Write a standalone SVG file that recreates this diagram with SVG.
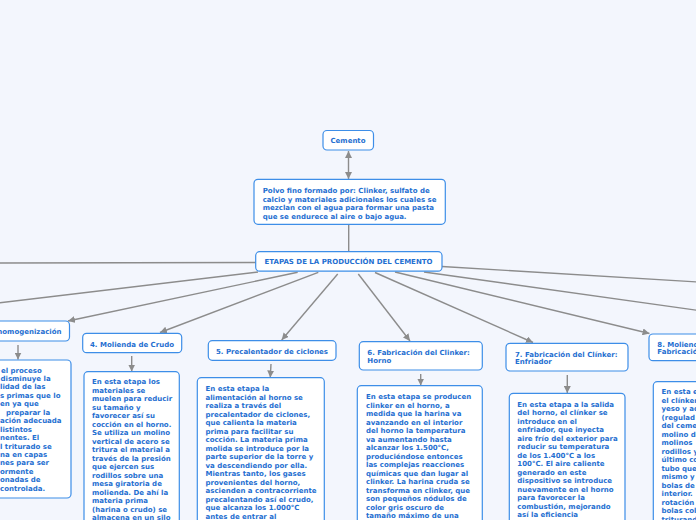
<svg xmlns="http://www.w3.org/2000/svg" width="696" height="520" viewBox="0 0 696 520">
<defs>
<style>
.bg{fill:#f3f6fd}
.box{fill:#ffffff;stroke:#3d8ee8;stroke-width:1.2}
.t{font-family:"DejaVu Sans","Verdana",sans-serif;font-weight:bold;font-size:7px;fill:#1f6fd1}
.c{fill:none;stroke:#8c8c8c;stroke-width:1.4}
</style>
<marker id="ah" viewBox="0 0 10 10" refX="10" refY="5" markerWidth="7" markerHeight="7" markerUnits="userSpaceOnUse" orient="auto-start-reverse"><path d="M0,0 L10,5 L0,10 z" fill="#8c8c8c"/></marker>
</defs>
<rect class="bg" x="0" y="0" width="696" height="520"/>

<g id="connectors">
<path class="c" d="M348.5,151 L348.5,179" stroke-width="2" marker-start="url(#ah)" marker-end="url(#ah)"/>
<path class="c" d="M348.7,224.5 L348.7,251.5"/>
<path class="c" d="M256,262.5 L-10,263"/>
<path class="c" d="M258,272 L-10,304"/>
<path class="c" d="M297.7,272.3 L68,321" marker-end="url(#ah)"/>
<path class="c" d="M318.3,272.3 L160,332.5" marker-end="url(#ah)"/>
<path class="c" d="M337.7,274 L281.7,340" marker-end="url(#ah)"/>
<path class="c" d="M358.3,274 L410,341" marker-end="url(#ah)"/>
<path class="c" d="M375,272.5 L533,342.5" marker-end="url(#ah)"/>
<path class="c" d="M395,272 L649.5,333.5" marker-end="url(#ah)"/>
<path class="c" d="M424,272 L706,311.5"/>
<path class="c" d="M442,266.5 L706,282.5"/>
<path class="c" d="M18,345 L18,359.5" marker-end="url(#ah)"/>
<path class="c" d="M131.7,356 L131.7,371.5" marker-end="url(#ah)"/>
<path class="c" d="M271,364 L270.3,377.5" marker-end="url(#ah)"/>
<path class="c" d="M420.7,374 L420.7,385.5" marker-end="url(#ah)"/>
<path class="c" d="M567.3,375 L567.3,393" marker-end="url(#ah)"/>
</g>

<g id="cemento">
<rect class="box" x="323" y="130.5" width="50.5" height="19.5" rx="4"/>
<text class="t" x="348" y="143.3" text-anchor="middle">Cemento</text>
</g>

<g id="definicion">
<rect class="box" x="254" y="179.3" width="191.3" height="45" rx="4"/>
<text class="t" x="262.7" y="193"><tspan x="262.7">Polvo fino formado por: Clinker, sulfato de</tspan><tspan x="262.7" dy="8.6">calcio y materiales adicionales los cuales se</tspan><tspan x="262.7" dy="8.6">mezclan con el agua para formar una pasta</tspan><tspan x="262.7" dy="8.6">que se endurece al aire o bajo agua.</tspan></text>
</g>

<g id="etapas">
<rect class="box" x="255.7" y="251.7" width="186.3" height="19.5" rx="4"/>
<text class="t" x="348.5" y="264" text-anchor="middle">ETAPAS DE LA PRODUCCIÓN DEL CEMENTO</text>
</g>

<g id="etapa3">
<rect class="box" x="-60" y="321" width="129.5" height="20" rx="4"/>
<text class="t" x="61.5" y="334" text-anchor="end">homogenización</text>
</g>

<g id="etapa3-desc">
<rect class="box" x="-60" y="360" width="131" height="138" rx="4"/>
<text class="t" y="372.5"><tspan x="1">el proceso</tspan><tspan x="0.5" dy="8.45">disminuye la</tspan><tspan x="0" dy="8.45">lidad de las</tspan><tspan x="0" dy="8.45">s primas que lo</tspan><tspan x="0" dy="8.45">en ya que</tspan><tspan x="6" dy="8.45">preparar la</tspan><tspan x="0" dy="8.45">ación adecuada</tspan><tspan x="0" dy="8.45">listintos</tspan><tspan x="0" dy="8.45">nentes. El</tspan><tspan x="0" dy="8.45">l triturado se</tspan><tspan x="0" dy="8.45">na en capas</tspan><tspan x="0" dy="8.45">nes para ser</tspan><tspan x="0" dy="8.45">ormente</tspan><tspan x="0" dy="8.45">onadas de</tspan><tspan x="0" dy="8.45">controlada.</tspan></text>
</g>

<g id="etapa4">
<rect class="box" x="82.7" y="333.3" width="99" height="19.4" rx="4"/>
<text class="t" x="132" y="346.5" text-anchor="middle">4. Molienda de Crudo</text>
</g>

<g id="etapa4-desc">
<rect class="box" x="84" y="371.7" width="95.3" height="170" rx="4"/>
<text class="t" y="384"><tspan x="92">En esta etapa los</tspan><tspan x="92" dy="8.53">materiales se</tspan><tspan x="92" dy="8.53">muelen para reducir</tspan><tspan x="92" dy="8.53">su tamaño y</tspan><tspan x="92" dy="8.53">favorecer así su</tspan><tspan x="92" dy="8.53">cocción en el horno.</tspan><tspan x="92" dy="8.53">Se utiliza un molino</tspan><tspan x="92" dy="8.53">vertical de acero se</tspan><tspan x="92" dy="8.53">tritura el material a</tspan><tspan x="92" dy="8.53">través de la presión</tspan><tspan x="92" dy="8.53">que ejercen sus</tspan><tspan x="92" dy="8.53">rodillos sobre una</tspan><tspan x="92" dy="8.53">mesa giratoria de</tspan><tspan x="92" dy="8.53">molienda. De ahí la</tspan><tspan x="92" dy="8.53">materia prima</tspan><tspan x="92" dy="8.53">(harina o crudo) se</tspan><tspan x="92" dy="8.53">almacena en un silo</tspan></text>
</g>

<g id="etapa5">
<rect class="box" x="208.3" y="340.7" width="127.7" height="19.6" rx="4"/>
<text class="t" x="272" y="353.5" text-anchor="middle">5. Precalentador de ciclones</text>
</g>

<g id="etapa5-desc">
<rect class="box" x="197.3" y="377.7" width="127" height="160" rx="4"/>
<text class="t" y="391"><tspan x="205.5">En esta etapa la</tspan><tspan x="205.5" dy="8.53">alimentación al horno se</tspan><tspan x="205.5" dy="8.53">realiza a través del</tspan><tspan x="205.5" dy="8.53">precalentador de ciclones,</tspan><tspan x="205.5" dy="8.53">que calienta la materia</tspan><tspan x="205.5" dy="8.53">prima para facilitar su</tspan><tspan x="205.5" dy="8.53">cocción. La materia prima</tspan><tspan x="205.5" dy="8.53">molida se introduce por la</tspan><tspan x="205.5" dy="8.53">parte superior de la torre y</tspan><tspan x="205.5" dy="8.53">va descendiendo por ella.</tspan><tspan x="205.5" dy="8.53">Mientras tanto, los gases</tspan><tspan x="205.5" dy="8.53">provenientes del horno,</tspan><tspan x="205.5" dy="8.53">ascienden a contracorriente</tspan><tspan x="205.5" dy="8.53">precalentando así el crudo,</tspan><tspan x="205.5" dy="8.53">que alcanza los 1.000°C</tspan><tspan x="205.5" dy="8.53">antes de entrar al</tspan></text>
</g>

<g id="etapa6">
<rect class="box" x="359.3" y="341.7" width="123" height="28.3" rx="4"/>
<text class="t" y="354.8"><tspan x="367.3">6. Fabricación del Clinker:</tspan><tspan x="367.3" dy="8">Horno</tspan></text>
</g>

<g id="etapa6-desc">
<rect class="box" x="357.3" y="385.7" width="125" height="150" rx="4"/>
<text class="t" y="399"><tspan x="366">En esta etapa se producen</tspan><tspan x="366" dy="8.53">clinker en el horno, a</tspan><tspan x="366" dy="8.53">medida que la harina va</tspan><tspan x="366" dy="8.53">avanzando en el interior</tspan><tspan x="366" dy="8.53">del horno la temperatura</tspan><tspan x="366" dy="8.53">va aumentando hasta</tspan><tspan x="366" dy="8.53">alcanzar los 1.500°C,</tspan><tspan x="366" dy="8.53">produciéndose entonces</tspan><tspan x="366" dy="8.53">las complejas reacciones</tspan><tspan x="366" dy="8.53">químicas que dan lugar al</tspan><tspan x="366" dy="8.53">clinker.  La harina cruda se</tspan><tspan x="366" dy="8.53">transforma en clinker, que</tspan><tspan x="366" dy="8.53">son pequeños nódulos de</tspan><tspan x="366" dy="8.53">color gris oscuro de</tspan><tspan x="366" dy="8.53">tamaño máximo de  una</tspan></text>
</g>

<g id="etapa7">
<rect class="box" x="506" y="343.3" width="122" height="27.7" rx="4"/>
<text class="t" y="356.5"><tspan x="515">7. Fabricación del Clínker:</tspan><tspan x="515" dy="7.8">Enfriador</tspan></text>
</g>

<g id="etapa7-desc">
<rect class="box" x="509.3" y="393.3" width="115.7" height="145" rx="4"/>
<text class="t" y="406.5"><tspan x="517.3">En esta etapa a la salida</tspan><tspan x="517.3" dy="8.53">del horno, el clínker se</tspan><tspan x="517.3" dy="8.53">introduce en el</tspan><tspan x="517.3" dy="8.53">enfriador, que inyecta</tspan><tspan x="517.3" dy="8.53">aire frío del exterior para</tspan><tspan x="517.3" dy="8.53">reducir su temperatura</tspan><tspan x="517.3" dy="8.53">de los 1.400°C a los</tspan><tspan x="517.3" dy="8.53">100°C. El aire caliente</tspan><tspan x="517.3" dy="8.53">generado en este</tspan><tspan x="517.3" dy="8.53">dispositivo se introduce</tspan><tspan x="517.3" dy="8.53">nuevamente en el horno</tspan><tspan x="517.3" dy="8.53">para favorecer la</tspan><tspan x="517.3" dy="8.53">combustión, mejorando</tspan><tspan x="517.3" dy="8.53">así la eficiencia</tspan></text>
</g>

<g id="etapa8">
<rect class="box" x="649" y="334" width="100" height="26.7" rx="4"/>
<text class="t" y="346.5"><tspan x="657.3">8. Molienda</tspan><tspan x="657.3" dy="7.8">Fabricación</tspan></text>
</g>

<g id="etapa8-desc">
<rect class="box" x="653.3" y="381.7" width="100" height="160" rx="4"/>
<text class="t" y="394"><tspan x="661.5">En esta etapa</tspan><tspan x="661.5" dy="8.53">el clínker</tspan><tspan x="661.5" dy="8.53">yeso y ad</tspan><tspan x="661.5" dy="8.53">(regulad</tspan><tspan x="661.5" dy="8.53">del ceme</tspan><tspan x="661.5" dy="8.53">molino de</tspan><tspan x="661.5" dy="8.53">molinos</tspan><tspan x="661.5" dy="8.53">rodillos y</tspan><tspan x="661.5" dy="8.53">último co</tspan><tspan x="661.5" dy="8.53">tubo que</tspan><tspan x="661.5" dy="8.53">mismo y</tspan><tspan x="661.5" dy="8.53">bolas de</tspan><tspan x="661.5" dy="8.53">interior.</tspan><tspan x="661.5" dy="8.53">rotación</tspan><tspan x="661.5" dy="8.53">bolas col</tspan><tspan x="661.5" dy="8.53">triturand</tspan></text>
</g>
</svg>
